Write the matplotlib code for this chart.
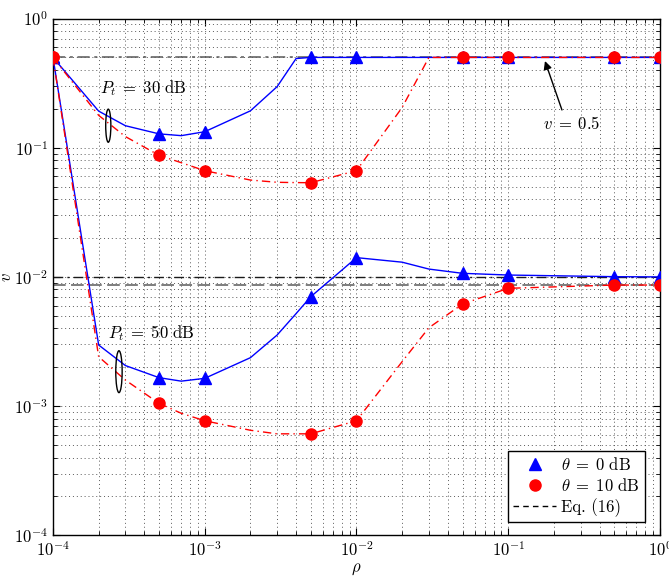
import numpy as np
import matplotlib
matplotlib.use("Agg")
import matplotlib.pyplot as plt
from matplotlib.patches import Ellipse
from matplotlib.lines import Line2D

plt.rcParams.update({
    "font.family": "serif",
    "font.serif": ["cmr10", "DejaVu Serif"],
    "mathtext.fontset": "cm",
    "axes.formatter.use_mathtext": True,
    "font.size": 11,
})

# sampling points of the power-splitting ratio
rho = [1e-4, 2e-4, 3e-4, 5e-4, 7e-4, 1e-3, 2e-3, 3e-3, 4e-3, 5e-3,
       1e-2, 2e-2, 3e-2, 5e-2, 1e-1, 5e-1, 1.0]
# indices of rho that carry a marker
marker_idx = [0, 3, 5, 9, 10, 13, 14, 15, 16]

# Pt = 30 dB
v30_theta0 = [0.5, 0.192, 0.148, 0.128, 0.124, 0.133, 0.193, 0.297, 0.49, 0.5,
              0.5, 0.5, 0.5, 0.5, 0.5, 0.5, 0.5]
v30_theta10 = [0.5, 0.178, 0.122, 0.0873, 0.0766, 0.0664, 0.0562, 0.054, 0.0537, 0.0536,
               0.0664, 0.205, 0.5, 0.5, 0.5, 0.5, 0.5]
# Pt = 50 dB
v50_theta0 = [0.5, 0.00297, 0.00206, 0.00166, 0.00156, 0.00164, 0.00237, 0.00355, 0.0052, 0.00703,
              0.0141, 0.0130, 0.0115, 0.01066, 0.01034, 0.01004, 0.0100]
v50_theta10 = [0.5, 0.00241, 0.00159, 0.00105, 0.00088, 0.00077, 0.00065, 0.00061, 0.00061, 0.00061,
               0.00077, 0.00221, 0.00404, 0.00617, 0.00816, 0.00865, 0.00865]

# asymptotic levels from Eq. (16)
eq16_levels = [0.5, 0.01, 0.0086]

fig = plt.figure(figsize=(6.69, 5.79), dpi=100)
ax = fig.add_axes([0.0792, 0.0755, 0.9073, 0.8925])

ax.set_xscale("log")
ax.set_yscale("log")
ax.set_xlim(1e-4, 1)
ax.set_ylim(1e-4, 1)

# dotted grid on major and minor ticks
ax.grid(True, which="both", linestyle=(0, (1, 3)), color="0.35", linewidth=0.7)
ax.set_axisbelow(True)

# Eq. (16) reference lines
ax.axhline(eq16_levels[0], color="0.35", linestyle=(0, (8, 3, 2, 3)), linewidth=1.1, zorder=2)
ax.axhline(eq16_levels[1], color="0.1", linestyle=(0, (7, 3, 1.5, 3)), linewidth=1.0, zorder=2)
ax.axhline(eq16_levels[2], color="0.45", linestyle=(0, (7, 3)), linewidth=1.3, zorder=2)

blue = "#0000ff"
red = "#ff0000"
for vb, vr in [(v30_theta0, v30_theta10), (v50_theta0, v50_theta10)]:
    ax.plot(rho, vb, color=blue, linewidth=1.0, marker="^", markersize=9,
            markevery=marker_idx, zorder=4)
    ax.plot(rho, vr, color=red, linewidth=1.0, linestyle=(0, (6, 3, 1, 3)), marker="o",
            markersize=8, markevery=marker_idx, zorder=5)

# annotations
ax.text(2.04e-4, 0.29, r"$P_t\;=\;30\ \mathrm{dB}$", fontsize=12, va="center", ha="left")
ax.text(2.30e-4, 0.00368, r"$P_t\;=\;50\ \mathrm{dB}$", fontsize=12, va="center", ha="left")
ax.add_patch(Ellipse((0.0911, 0.7926), 0.0085, 0.064, transform=ax.transAxes,
                     fill=False, edgecolor="k", linewidth=1.0, zorder=6))
ax.add_patch(Ellipse((0.1087, 0.3166), 0.0105, 0.081, transform=ax.transAxes,
                     fill=False, edgecolor="k", linewidth=1.0, zorder=6))

ax.annotate("", xy=(0.1746, 0.469), xytext=(0.226, 0.196),
            arrowprops=dict(arrowstyle="-|>", color="k", lw=1.0, mutation_scale=12,
                            shrinkA=0, shrinkB=0), zorder=7)
ax.text(0.262, 0.1545, r"$v\;=\;0.5$", fontsize=12, ha="center", va="center")

ax.set_xlabel(r"$\rho$", fontsize=12, labelpad=2)
ax.set_ylabel(r"$v$", fontsize=12, labelpad=0)

ax.tick_params(which="both", direction="in", top=True, right=True)
ax.tick_params(which="major", length=5, labelsize=12)
ax.tick_params(which="minor", length=3)
for s in ax.spines.values():
    s.set_linewidth(1.0)

handles = [
    Line2D([], [], color=blue, marker="^", linestyle="none", markersize=9),
    Line2D([], [], color=red, marker="o", linestyle="none", markersize=8),
    Line2D([], [], color="k", linestyle=(0, (4, 3)), linewidth=1.0),
]
labels = [r"$\theta\;=\;0\ \mathrm{dB}$", r"$\theta\;=\;10\ \mathrm{dB}$", r"Eq. (16)"]
leg = ax.legend(handles, labels, loc="lower right", bbox_to_anchor=(0.975, 0.0257),
                fontsize=12, fancybox=False, framealpha=1, edgecolor="k",
                borderaxespad=0, handlelength=2.6, handletextpad=0.3,
                labelspacing=0.25, borderpad=0.3)
leg.get_frame().set_linewidth(1.0)

fig.savefig("out.png", dpi=100)
